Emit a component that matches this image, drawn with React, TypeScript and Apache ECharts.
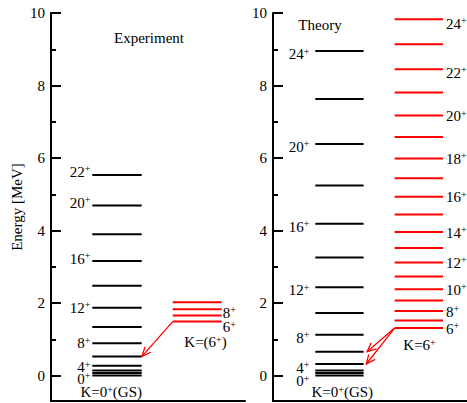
import React, { useEffect, useRef } from "react";
import * as echarts from "echarts";

const FONT = "'Liberation Serif', 'Times New Roman', serif";

// ---------- data (MeV) ----------
const expGSEnergies = [0, 0.075, 0.14, 0.27, 0.53, 0.89, 1.34, 1.875, 2.48, 3.16, 3.9, 4.69, 5.53];
const expGSLabels = ["0", "", "", "4", "", "8", "", "12", "", "16", "", "20", "22"];
const expK6Energies = [1.49, 1.655, 1.83, 2.02];
const expK6Labels = ["6", "", "8", ""];
const thGSEnergies = [0, 0.075, 0.14, 0.32, 0.66, 1.13, 1.73, 2.44, 3.26, 4.19, 5.24, 6.39, 7.63, 8.95];
const thGSLabels = ["0", "", "", "4", "", "8", "", "12", "", "16", "", "20", "", "24"];
const thK6Energies = [1.31, 1.52, 1.78, 2.07, 2.38, 2.73, 3.12, 3.52, 3.96, 4.44, 4.93, 5.44, 5.99, 6.58, 7.17, 7.81, 8.45, 9.14, 9.83];
const thK6Labels = ["6", "", "8", "", "10", "", "12", "", "14", "", "16", "", "18", "", "20", "", "22", "", "24"];
// transitions [from energy, to energy]
const expTransitions = [[1.49, 0.53]];
const thTransitions = [[1.31, 0.66], [1.31, 0.32]];

const yTicks = [0, 2, 4, 6, 8, 10];
const yMinorTicks = [1, 3, 5, 7, 9];
const Y_MIN = -0.7;
const Y_MAX = 10;

// ---------- layout / style ----------
const X_MAX = 194;
const RICH = {
  n: { fontFamily: FONT, fontSize: 15, lineHeight: 16, fill: "#000" },
  s: { fontFamily: FONT, fontSize: 10, lineHeight: 5, verticalAlign: "top", fill: "#000" },
};

type Level = {
  x0: number; x1: number; e: number; color: string;
  label: string; side: "left" | "right"; gap: number; dy: number;
};

function buildLevels(
  energies: number[], labels: string[], x0: number, x1: number, color: string,
  side: "left" | "right", gap: number, dyDefault: number, dyMap: Record<string, number>
): Level[] {
  return energies.map((e, i) => ({
    x0, x1, e, color, label: labels[i], side, gap,
    dy: labels[i] && dyMap[labels[i]] !== undefined ? dyMap[labels[i]] : dyDefault,
  }));
}

function levelSeries(levels: Level[], xi: number, yi: number) {
  return {
    type: "custom",
    xAxisIndex: xi,
    yAxisIndex: yi,
    clip: false,
    silent: true,
    data: levels.map((l) => [l.x0, l.e]),
    renderItem: (params: any, api: any) => {
      const l = levels[params.dataIndex];
      const p0 = api.coord([l.x0, l.e]);
      const p1 = api.coord([l.x1, l.e]);
      const children: any[] = [
        {
          type: "line",
          shape: { x1: p0[0], y1: p0[1], x2: p1[0], y2: p1[1] },
          style: { stroke: l.color, lineWidth: 2 },
        },
      ];
      if (l.label) {
        children.push({
          type: "text",
          x: l.side === "left" ? p0[0] - l.gap : p1[0] + l.gap,
          y: p0[1] + l.dy,
          style: {
            text: `{n|${l.label}}{s|+}`,
            rich: RICH,
            align: l.side === "left" ? "right" : "left",
            verticalAlign: "middle",
          },
        });
      }
      return { type: "group", children };
    },
  };
}

function arrowSeries(trans: number[][], xStart: number, xEnd: number[], xi: number, yi: number) {
  return {
    type: "custom",
    xAxisIndex: xi,
    yAxisIndex: yi,
    clip: false,
    silent: true,
    data: trans.map((t, i) => [xStart, t[0], xEnd[i], t[1]]),
    renderItem: (params: any, api: any) => {
      const a = api.coord([api.value(0), api.value(1)]);
      const b = api.coord([api.value(2), api.value(3)]);
      const dx = b[0] - a[0];
      const dy = b[1] - a[1];
      const len = Math.sqrt(dx * dx + dy * dy);
      const ux = dx / len;
      const uy = dy / len;
      const L = 10;
      const th = (24 * Math.PI) / 180;
      const c = Math.cos(th);
      const s = Math.sin(th);
      const h1 = [b[0] - L * (ux * c - uy * s), b[1] - L * (uy * c + ux * s)];
      const h2 = [b[0] - L * (ux * c + uy * s), b[1] - L * (uy * c - ux * s)];
      return {
        type: "group",
        children: [
          { type: "line", shape: { x1: a[0], y1: a[1], x2: b[0], y2: b[1] }, style: { stroke: "#ff0000", lineWidth: 1.3 } },
          { type: "polyline", shape: { points: [h1, [b[0], b[1]], h2] }, style: { stroke: "#ff0000", lineWidth: 1.3, fill: null } },
        ],
      };
    },
  };
}

function yAxes(gridIndex: number) {
  return [
    {
      type: "value",
      gridIndex,
      min: Y_MIN,
      max: Y_MAX,
      position: "left",
      name: gridIndex === 0 ? "Energy [MeV]" : "",
      nameLocation: "middle",
      nameGap: 27,
      nameTextStyle: { fontFamily: FONT, fontSize: 15, color: "#000" },
      axisLine: { show: true, onZero: false, lineStyle: { color: "#000", width: 2 } },
      axisTick: { show: true, inside: true, length: 10, customValues: yTicks, lineStyle: { color: "#000", width: 2 } },
      axisLabel: { show: true, customValues: yTicks, margin: 6, fontFamily: FONT, fontSize: 15, color: "#000" },
      splitLine: { show: false },
    },
    {
      type: "value",
      gridIndex,
      min: Y_MIN,
      max: Y_MAX,
      position: "left",
      axisLine: { show: false, onZero: false },
      axisTick: { show: true, inside: true, length: 5, customValues: yMinorTicks, lineStyle: { color: "#000", width: 2 } },
      axisLabel: { show: false },
      splitLine: { show: false },
    },
  ];
}

function xAxis(gridIndex: number) {
  return {
    type: "value",
    gridIndex,
    min: 0,
    max: X_MAX,
    axisLine: { show: true, onZero: false, lineStyle: { color: "#000", width: 2 } },
    axisTick: { show: false },
    axisLabel: { show: false },
    splitLine: { show: false },
  };
}

function richText(x: number, y: number, text: string) {
  return {
    type: "text",
    x,
    y,
    style: { text, rich: RICH, align: "center", verticalAlign: "middle" },
  };
}

export default function App() {
  const ref = useRef<HTMLDivElement>(null);

  useEffect(() => {
    if (!ref.current) return;
    const chart = echarts.init(ref.current, undefined, { renderer: "svg" });

    const expGS = buildLevels(expGSEnergies, expGSLabels, 41.3, 90.7, "#000", "left", 2, 0,
      { "0": 3, "4": 1.5, "8": 0, "12": 0, "16": -2.5, "20": -3, "22": -3.5 });
    const expK6 = buildLevels(expK6Energies, expK6Labels, 121.7, 170.7, "#ff0000", "right", 1, 0,
      { "8": 3.5, "6": 5.5 });
    const thGS = buildLevels(thGSEnergies, thGSLabels, 42.3, 90.6, "#000", "left", 6, 3,
      { "0": 5.5, "4": 3.5 });
    const thK6 = buildLevels(thK6Energies, thK6Labels, 121.6, 170, "#ff0000", "right", 3, 0.5,
      { "24": 4.5, "22": 3.5 });

    chart.setOption({
      animation: false,
      grid: [
        { left: 51, top: 13, width: X_MAX, bottom: 2 },
        { left: 273, top: 13, width: X_MAX, bottom: 2 },
      ],
      xAxis: [xAxis(0), xAxis(1)],
      yAxis: [...yAxes(0), ...yAxes(1)],
      series: [
        levelSeries(expGS, 0, 0),
        levelSeries(expK6, 0, 0),
        arrowSeries(expTransitions, 121.7, [91], 0, 0),
        levelSeries(thGS, 1, 2),
        levelSeries(thK6, 1, 2),
        arrowSeries(thTransitions, 121.6, [94, 93.3], 1, 2),
      ],
      graphic: [
        { type: "text", x: 149, y: 38, style: { text: "Experiment", fontFamily: FONT, fontSize: 15, fill: "#000", align: "center", verticalAlign: "middle" } },
        { type: "text", x: 320, y: 25, style: { text: "Theory", fontFamily: FONT, fontSize: 15, fill: "#000", align: "center", verticalAlign: "middle" } },
        richText(111.2, 392, "{n|K=0}{s|+}{n|(GS)}"),
        richText(342.3, 392, "{n|K=0}{s|+}{n|(GS)}"),
        richText(205.5, 342, "{n|K=(6}{s|+}{n|)}"),
        richText(419.5, 345, "{n|K=6}{s|+}"),
      ],
    });

    return () => chart.dispose();
  }, []);

  return (
    <div
      ref={ref}
      style={{ position: "fixed", left: 0, top: 0, width: 467, height: 403, background: "#fff" }}
    />
  );
}
